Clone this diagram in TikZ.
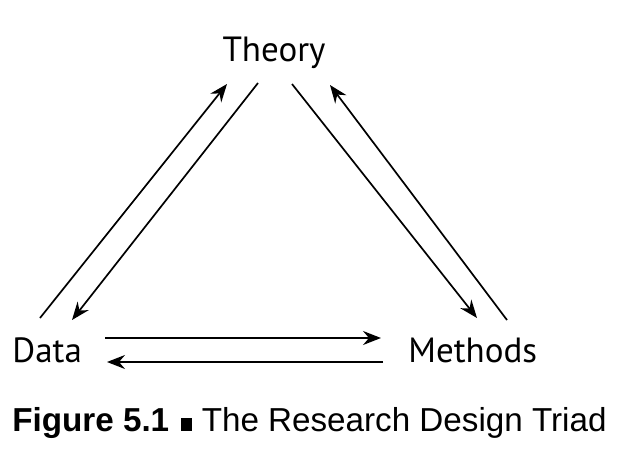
\documentclass[tikz,border=0pt]{standalone}
\usepackage{fontspec}
\setmainfont{Liberation Sans}
\newfontfamily\labelfont{PT Sans}
\usetikzlibrary{arrows.meta,positioning}

\tikzset{
  corner/.style={font=\labelfont\fontsize{17.5}{20}\selectfont,inner sep=0pt},
  flow/.style={-{Stealth[length=9pt,width=7pt,inset=3pt]},line width=0.85pt},
}

\begin{document}
\begin{tikzpicture}[x=0.5pt,y=0.5pt]
  \useasboundingbox (0,0) rectangle (632,456);

  \node[corner,anchor=base] (theory) at (274,394) {Theory};
  \node[corner,anchor=base west] (data) at (12,94) {Data};
  \node[corner,anchor=base west] (methods) at (408,94) {Methods};

  % data <-> theory
  \draw[flow] ([shift={(28,44)}]data.base west) -- ([shift={(-47,-22)}]theory.base);
  \draw[flow] ([shift={(-16,-21)}]theory.base) -- ([shift={(60,42)}]data.base west);
  % theory <-> methods
  \draw[flow] ([shift={(18,-22)}]theory.base) -- ([shift={(69,44)}]methods.base west);
  \draw[flow] ([shift={(99,42)}]methods.base west) -- ([shift={(56,-23)}]theory.base);
  % data <-> methods
  \draw[flow] ([shift={(93,24)}]data.base west) -- ([shift={(-27,24)}]methods.base west);
  \draw[flow] ([shift={(-25,0)}]methods.base west) -- ([shift={(95,0)}]data.base west);

  \node[anchor=base west,inner sep=0pt,font=\fontsize{16.6}{20}\selectfont]
    (caption) at (12,25)
    {\textbf{Figure 5.1}\hspace{0.35em}\rule{5.5pt}{6.5pt}\hspace{0.3em}The Research Design Triad};
\end{tikzpicture}
\end{document}
